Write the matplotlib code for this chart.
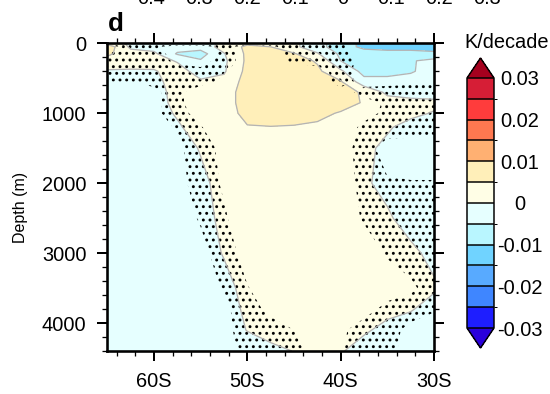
import numpy as np
import matplotlib.pyplot as plt
from matplotlib.colors import ListedColormap, BoundaryNorm

# latitude (deg, negative = south) and depth (m) of the section grid
lat = [-65, -62.5, -60, -57.5, -55, -52.5, -50, -47.5, -45, -42.5, -40, -37.5, -35, -32.5, -30]
depth = [0, 50, 150, 250, 400, 550, 700, 850, 1000, 1200, 1500, 2000, 2500, 3000, 3500, 3800, 4100, 4400]

# temperature trend, 1e-3 K/decade (rows = depth, cols = lat)
trend_mk = [
    [3, -1, -2, -2, -2, 1, 4, 3, 1, -3, -8, -11, -12, -12, -12],
    [8, -1, -2, -3, -3, 2, 6, 5, 1, -3, -8, -11, -12, -12, -12],
    [6, 2, 1, -5.5, -7, -0.3, 6, 7, 5.5, 0.5, -6, -8, -8, -8, -9],
    [3, 2, 1.5, -0.3, -4.5, -1, 6, 8, 7, 4.5, -5, -7, -7, -5.5, -3.5],
    [-0.5, -0.5, -0.3, 1.5, -1.5, -0.6, 6.5, 8, 8, 6, 1, -7, -7, -5.5, -3],
    [-2, -2, -1, 1.5, 0.5, 1.5, 7, 9, 9, 8, 5.5, -3, -3, -3, -3],
    [-2.5, -2.5, -1.8, 1.5, 2.5, 3.5, 6.5, 9, 9, 9, 8, 4, -1, -2, -2],
    [-2.5, -2.5, -1.5, 1, 2.5, 3.5, 6.5, 9, 9, 8.5, 7.5, 4.5, 2, 1.5, 1],
    [-3, -3, -2, 0.5, 2.5, 3.5, 6, 8, 8, 6.5, 4.5, 3, 2, 1, -0.3],
    [-3, -3, -2.5, -0.6, 2, 3.5, 4.8, 4.8, 4.5, 4, 3.5, 2.5, 0.5, -1.5, -2],
    [-3.5, -3.5, -3, -2, 0.3, 2.5, 3.5, 4, 4, 3.5, 2.5, 1, -1, -2.5, -3],
    [-3.5, -3.5, -3, -2.5, -1, 1.5, 3, 3.5, 3.5, 3, 2, 0.5, -1, -2.5, -3],
    [-3.5, -3.5, -3, -2.5, -1.5, 1, 2.5, 3, 3, 3, 2.5, 2, 0.5, -1.5, -2.5],
    [-3.5, -3, -3, -2.5, -1.5, 0.2, 2, 3, 3, 3, 3, 2.5, 2, 0.8, -1],
    [-3.5, -3, -3, -2.5, -2, -1, 1, 2.5, 3, 3, 3, 2.5, 2, 1.5, 0.5],
    [-3.5, -3, -3, -2.5, -2, -1.2, 0.5, 2, 2.5, 2.5, 2, 1.5, 1, 0.3, -1.5],
    [-3.5, -3, -3, -2.5, -2, -1.5, 0.1, 1.5, 2, 2, 1.5, 0.5, -1, -2, -2.5],
    [-3.5, -3, -3, -2.5, -2, -2, -1.5, -1, 0.1, 1.5, 0.3, -1.5, -2, -2.5, -3],
]

# significance field (stippled where > 0.5)
pval = [
    [1, 1, 1, 1, 1, 1, 1, 1, 1, 1, 0.6, 0, 0, 0, 0],
    [0.3, 0.6, 0.6, 0.2, 0.2, 0.7, 0.2, 0.3, 1, 1, 0.6, 0.1, 0, 0, 0],
    [0.6, 0.7, 0.7, 0.3, 0.1, 0.7, 0.3, 0.2, 0.7, 1, 0.8, 0.1, 0, 0, 0],
    [1, 1, 1, 0.3, 0.2, 0.8, 0.2, 0.1, 0.7, 0.9, 0.8, 0.3, 0, 0, 0],
    [0.9, 0.9, 0.9, 0.9, 0.7, 0.6, 0.1, 0, 0, 0.1, 0.9, 0.1, 0, 0, 0],
    [0.5, 0.5, 0.6, 0.9, 0.8, 0.3, 0, 0, 0, 0, 0.9, 0.2, 0.3, 0.3, 0.3],
    [0, 0, 0.4, 0.7, 0, 0, 0, 0, 0, 0, 0.1, 0.8, 0.8, 1, 1],
    [0, 0, 0.4, 0.7, 0, 0, 0, 0, 0, 0, 0, 0.2, 0.6, 1, 1],
    [0, 0, 0.3, 0.9, 0.1, 0, 0, 0, 0, 0, 0, 0.2, 0.7, 1, 1],
    [0, 0, 0.1, 0.6, 0.55, 0, 0, 0, 0, 0, 0, 0.7, 1, 1, 1],
    [0, 0, 0, 0.3, 1, 0.2, 0, 0, 0, 0, 0.1, 0.9, 0.1, 0, 0],
    [0, 0, 0, 0.2, 0.9, 0.4, 0, 0, 0, 0, 0, 0.8, 0.6, 0.55, 0.55],
    [0, 0, 0, 0, 0.6, 0.6, 0, 0, 0, 0, 0, 0.6, 1, 1, 1],
    [0, 0, 0, 0, 0.2, 1, 0.1, 0, 0, 0, 0, 0, 0.6, 1, 1],
    [0, 0, 0, 0, 0, 0.6, 0.55, 0, 0, 0, 0, 0, 0, 0.3, 1],
    [0, 0, 0, 0, 0, 0.3, 1, 0.2, 0, 0, 0, 0.1, 0.8, 1, 0.6],
    [0, 0, 0, 0, 0, 0.2, 1, 1, 0.5, 0, 0.3, 1, 0.9, 0.2, 0],
    [0, 0, 0, 0, 0, 0.1, 0.8, 1, 0.8, 0.1, 0.4, 1, 0.8, 0.1, 0],
]

levels = [-0.03, -0.025, -0.02, -0.015, -0.01, -0.005, 0, 0.005, 0.01, 0.015, 0.02, 0.025, 0.03]
colors = ['#2a00dc', '#1e1eff', '#3f86ff', '#58aaff', '#70d3ff', '#b9f6ff', '#e6ffff',
          '#fffee6', '#ffefb9', '#ffb072', '#ff7850', '#ff3c3c', '#d61e36', '#a5001e']
cb_ticks = [-0.03, -0.02, -0.01, 0, 0.01, 0.02, 0.03]
cb_labels = ['-0.03', '-0.02', '-0.01', '0', '0.01', '0.02', '0.03']
lat_ticks = [-60, -50, -40, -30]
lat_labels = ['60S', '50S', '40S', '30S']
depth_ticks = [0, 1000, 2000, 3000, 4000]
top_labels = ['0.4', '0.3', '0.2', '0.1', '0', '0.1', '0.2', '0.3']

DPI = 120
W, H = 550, 394


def pt(px):
    # pixel size -> points at the output dpi
    return px * 72.0 / DPI


plt.rcParams['font.family'] = ['Liberation Sans', 'DejaVu Sans']
plt.rcParams['hatch.color'] = 'black'
plt.rcParams['hatch.linewidth'] = pt(1.6)
plt.rcParams['contour.negative_linestyle'] = 'solid'

T = np.array(trend_mk) / 1000.0
P = np.array(pval)

cmap = ListedColormap(colors[1:-1])
cmap.set_under(colors[0])
cmap.set_over(colors[-1])
norm = BoundaryNorm(levels, cmap.N)

fig = plt.figure(figsize=(W / DPI, H / DPI), dpi=DPI)
ax = fig.add_axes([107.3 / W, 1 - 351 / H, (434 - 107.3) / W, (351 - 43.3) / H])

cf = ax.contourf(lat, depth, T, levels=levels, cmap=cmap, norm=norm, extend='both')
ax.contour(lat, depth, T, levels=levels, colors='#b4b4b4', linewidths=pt(1.3))
ax.contourf(lat, depth, P, levels=[0.5, 2], colors='none', hatches=['...'])

ax.set_xlim(-65, -30)
ax.set_ylim(4400, 0)
ax.set_xticks(lat_ticks)
ax.set_xticklabels(lat_labels)
ax.set_xticks(np.arange(-64, -29, 2), minor=True)
ax.set_yticks(depth_ticks)
ax.set_yticks(np.arange(0, 4401, 200), minor=True)
ax.tick_params(which='both', direction='out', top=True, right=True, labelsize=pt(20))
ax.tick_params(which='major', length=pt(10), width=pt(2))
ax.tick_params(which='minor', length=pt(5), width=pt(1.3))
ax.tick_params(axis='x', pad=pt(11))
ax.tick_params(axis='y', pad=pt(11))
for s in ax.spines.values():
    s.set_linewidth(pt(2.6))

# y-axis title placed directly in figure pixels
fig.text(20 / W, 1 - 207 / H, 'Depth (m)', fontsize=pt(16), rotation=90,
         ha='center', va='center')

fig.text(108 / W, 1 - 31 / H, 'd', fontsize=pt(26), fontweight='bold')

# cut-off tick labels of the panel above
for i, t in enumerate(top_labels):
    fig.text((151 + i * 48) / W, 1 - 4 / H, t, fontsize=pt(20), ha='center', va='baseline')

cax = fig.add_axes([467 / W, 1 - 348 / H, 27 / W, 290 / H])
cb = fig.colorbar(cf, cax=cax, orientation='vertical', extendfrac=0.08, drawedges=True)
cb.outline.set_linewidth(pt(1.5))
cb.dividers.set_linewidth(pt(1.5))
cb.set_ticks(cb_ticks)
cb.set_ticklabels(cb_labels)
cb.ax.tick_params(length=0, pad=pt(26), labelsize=pt(20))
for lab in cb.ax.get_yticklabels():
    lab.set_horizontalalignment('center')
fig.text(507 / W, 1 - 42 / H, 'K/decade', fontsize=pt(20), ha='center', va='center')

fig.savefig('out.png', dpi=DPI)
